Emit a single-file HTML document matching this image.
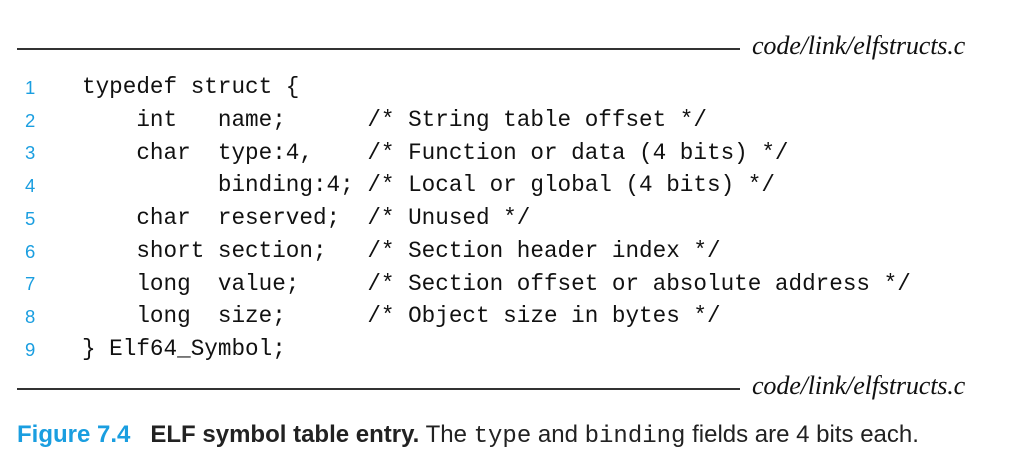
<!DOCTYPE html>
<html><head><meta charset="utf-8"><style>
body{margin:0;width:1018px;height:467px;background:#fff;position:relative;overflow:hidden}
.hr{position:absolute;left:17px;width:723px;height:2px;background:#333}
.fn{position:absolute;left:752px;font:italic 26.2px "Liberation Serif",serif;color:#111;letter-spacing:-0.2px}
.code{position:absolute;left:0;top:71px;font:22.65px/32.75px "Liberation Mono",monospace;color:#111;white-space:pre}
.ln{position:absolute;left:25px;font:18.5px "Liberation Sans",sans-serif;color:#1a9ee0}
.cap{position:absolute;left:17px;top:421px;font:24px "Liberation Sans",sans-serif;color:#222;white-space:pre}
.cap b.f{color:#1a9ee0}
.cap code{font:24px "Liberation Mono",monospace}
</style></head><body>
<div class="hr" style="top:48px"></div>
<div class="fn" style="top:31px">code/link/elfstructs.c</div>
<div class="code"><div style="position:relative;left:82px">typedef struct {
    int   name;      /* String table offset */
    char  type:4,    /* Function or data (4 bits) */
          binding:4; /* Local or global (4 bits) */
    char  reserved;  /* Unused */
    short section;   /* Section header index */
    long  value;     /* Section offset or absolute address */
    long  size;      /* Object size in bytes */
} Elf64_Symbol;</div></div>
<div class="ln" style="top:77px">1</div>
<div class="ln" style="top:110px">2</div>
<div class="ln" style="top:142px">3</div>
<div class="ln" style="top:175px">4</div>
<div class="ln" style="top:208px">5</div>
<div class="ln" style="top:241px">6</div>
<div class="ln" style="top:273px">7</div>
<div class="ln" style="top:306px">8</div>
<div class="ln" style="top:339px">9</div>
<div class="hr" style="top:388px"></div>
<div class="fn" style="top:371px">code/link/elfstructs.c</div>
<div class="cap"><b class="f">Figure 7.4</b>   <b>ELF symbol table entry.</b> The <code>type</code> and <code>binding</code> fields are 4 bits each.</div>
</body></html>
